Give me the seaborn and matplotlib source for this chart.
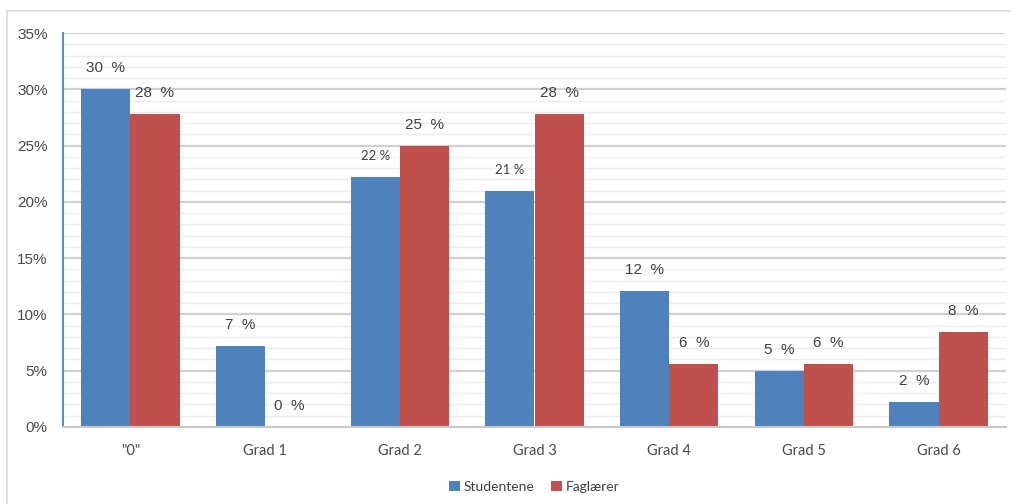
import matplotlib
matplotlib.use("Agg")
import matplotlib.pyplot as plt
import seaborn as sns
import pandas as pd
import numpy as np
from matplotlib.patches import Rectangle

categories = ['"0"', "Grad 1", "Grad 2", "Grad 3", "Grad 4", "Grad 5", "Grad 6"]
studentene = [30.0, 7.2, 22.2, 21.0, 12.1, 5.0, 2.2]
faglaerer = [27.8, 0.0, 25.0, 27.8, 5.6, 5.6, 8.4]
labels_stud = ["30  %", "7  %", "22 %", "21 %", "12  %", "5  %", "2  %"]
labels_fag = ["28  %", "0  %", "25  %", "28  %", "6  %", "6  %", "8  %"]
series = ["Studentene", "Faglærer"]
colors = ["#4F81BD", "#C0504D"]

df = pd.DataFrame({
    "cat": categories * 2,
    "val": studentene + faglaerer,
    "serie": [series[0]] * len(categories) + [series[1]] * len(categories),
})

sns.set_theme(style="white")
plt.rcParams["font.family"] = ["Liberation Sans", "DejaVu Sans"]

fig = plt.figure(figsize=(10.11, 5.04), dpi=100)
ax = fig.add_axes([63 / 1011, 1 - 427 / 504, (1006 - 63) / 1011, (427 - 33) / 504])

# outer border
fig.patches.append(Rectangle((7 / 1011, -0.01), 1.1, 1 - 11 / 504 + 0.01, transform=fig.transFigure,
                             fill=False, edgecolor="#D9D9D9", linewidth=1.2))

sns.barplot(data=df, x="cat", y="val", hue="serie", palette=colors, width=0.73,
            saturation=1, ax=ax, legend=True, linewidth=0, errorbar=None)

ax.set_ylim(0, 35)
ax.set_xlim(-0.5, len(categories) - 0.5)
ax.set_yticks(np.arange(0, 36, 5))
ax.set_yticklabels([f"{v}%" for v in range(0, 36, 5)])
ax.set_yticks(np.arange(0, 36, 1), minor=True)
ax.yaxis.grid(True, which="major", color="#D0D0D0", linewidth=1.6)
ax.yaxis.grid(True, which="minor", color="#EBEBEB", linewidth=1.0)
ax.set_axisbelow(True)
ax.set_xlabel("")
ax.set_ylabel("")

for s in ["top", "right"]:
    ax.spines[s].set_visible(False)
ax.spines["left"].set_color("#5B8BC9")
ax.spines["left"].set_linewidth(1.5)
ax.spines["bottom"].set_color("#C8C8C8")
ax.spines["bottom"].set_linewidth(1.5)

ax.tick_params(axis="y", which="both", length=0, labelsize=11, labelcolor="#4A4A4A", pad=11)
ax.tick_params(axis="x", length=0, labelsize=10.5, labelcolor="#4A4A4A", pad=12)
for t in ax.get_xticklabels():
    t.set_family(["Lato", "DejaVu Sans"])

for container, labs in zip(ax.containers, [labels_stud, labels_fag]):
    for bar, lab in zip(container, labs):
        small = lab in ("22 %", "21 %")
        ax.annotate(lab, (bar.get_x() + bar.get_width() / 2, bar.get_height()),
                    xytext=(0, 21), textcoords="offset pixels",
                    ha="center", va="center", color="#404040",
                    fontsize=9.5 if small else 11,
                    family=["Lato", "DejaVu Sans"] if small else ["Liberation Sans", "DejaVu Sans"])

leg = ax.legend(loc="center", bbox_to_anchor=(0.5, (427 - 487) / (427 - 33)), ncol=2, frameon=False,
                handlelength=0.75, handleheight=0.75, handletextpad=0.3, columnspacing=1.2,
                prop={"family": ["Lato", "DejaVu Sans"], "size": 10})
for t in leg.get_texts():
    t.set_color("#404040")

fig.savefig("out.png", dpi=100, facecolor="white")
